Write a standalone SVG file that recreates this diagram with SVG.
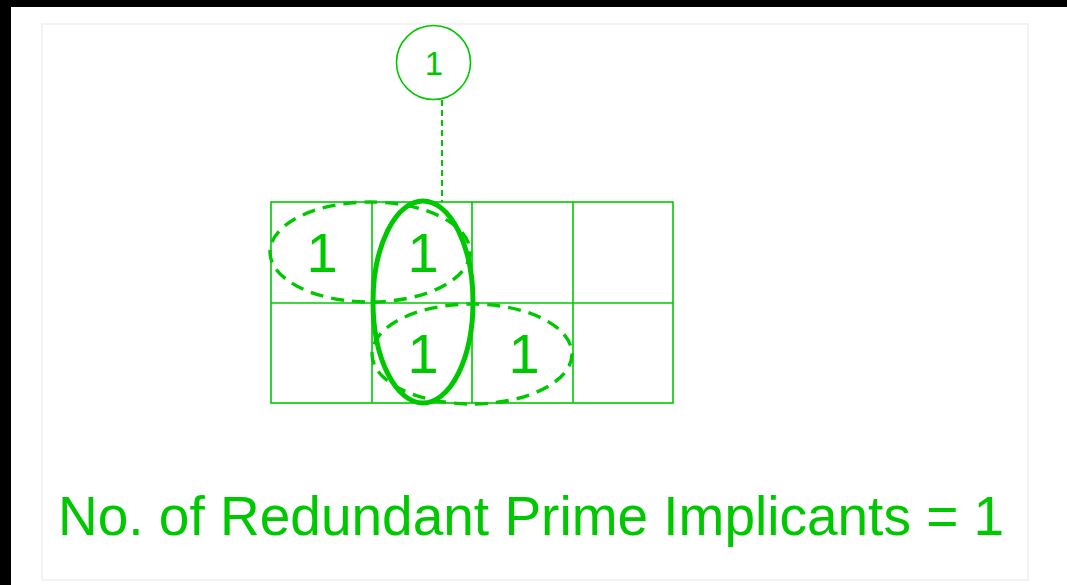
<svg xmlns="http://www.w3.org/2000/svg" width="1067" height="585" viewBox="0 0 1067 585">
<style>
.g{stroke:#00c800;fill:none}
.grid{stroke-width:1.6}
.dash{stroke-width:3.4;stroke-dasharray:13 8}
.solid{stroke-width:5}
.t{fill:#00c800;font-family:"Liberation Sans",Arial,sans-serif}
.one{font-size:56px;text-anchor:middle}
</style>
<rect x="0" y="0" width="1067" height="585" fill="#000"/>
<rect x="11" y="7" width="1056" height="578" fill="#fff"/>
<rect x="42" y="24" width="986" height="556" fill="#fff" stroke="#f3f3f3" stroke-width="2"/>
<g id="connectors">
<line class="g" x1="442" y1="100" x2="442" y2="202" stroke-width="2" stroke-dasharray="6 4"/>
</g>
<g id="node-circle">
<circle class="g" cx="433.5" cy="62.5" r="37" stroke-width="1.6"/>
<text class="t" x="434" y="75" font-size="33" text-anchor="middle">1</text>
</g>
<g id="kmap-grid">
<rect class="g grid" x="271" y="202" width="402" height="201"/>
<line class="g grid" x1="372" y1="202" x2="372" y2="403"/>
<line class="g grid" x1="472" y1="202" x2="472" y2="403"/>
<line class="g grid" x1="573" y1="202" x2="573" y2="403"/>
<line class="g grid" x1="271" y1="303" x2="673" y2="303"/>
</g>
<g id="cells">
<text class="t one" x="322" y="272">1</text>
<text class="t one" x="423" y="272">1</text>
<text class="t one" x="423" y="373">1</text>
<text class="t one" x="524" y="373">1</text>
</g>
<g id="implicants">
<ellipse class="g dash" cx="370" cy="252" rx="100" ry="50"/>
<ellipse class="g dash" cx="472" cy="354" rx="100" ry="50"/>
<ellipse class="g solid" cx="423" cy="302" rx="50" ry="101"/>
</g>
<g id="caption">
<text class="t" x="58" y="535" font-size="55">No. of Redundant Prime Implicants = 1</text>
</g>
</svg>
